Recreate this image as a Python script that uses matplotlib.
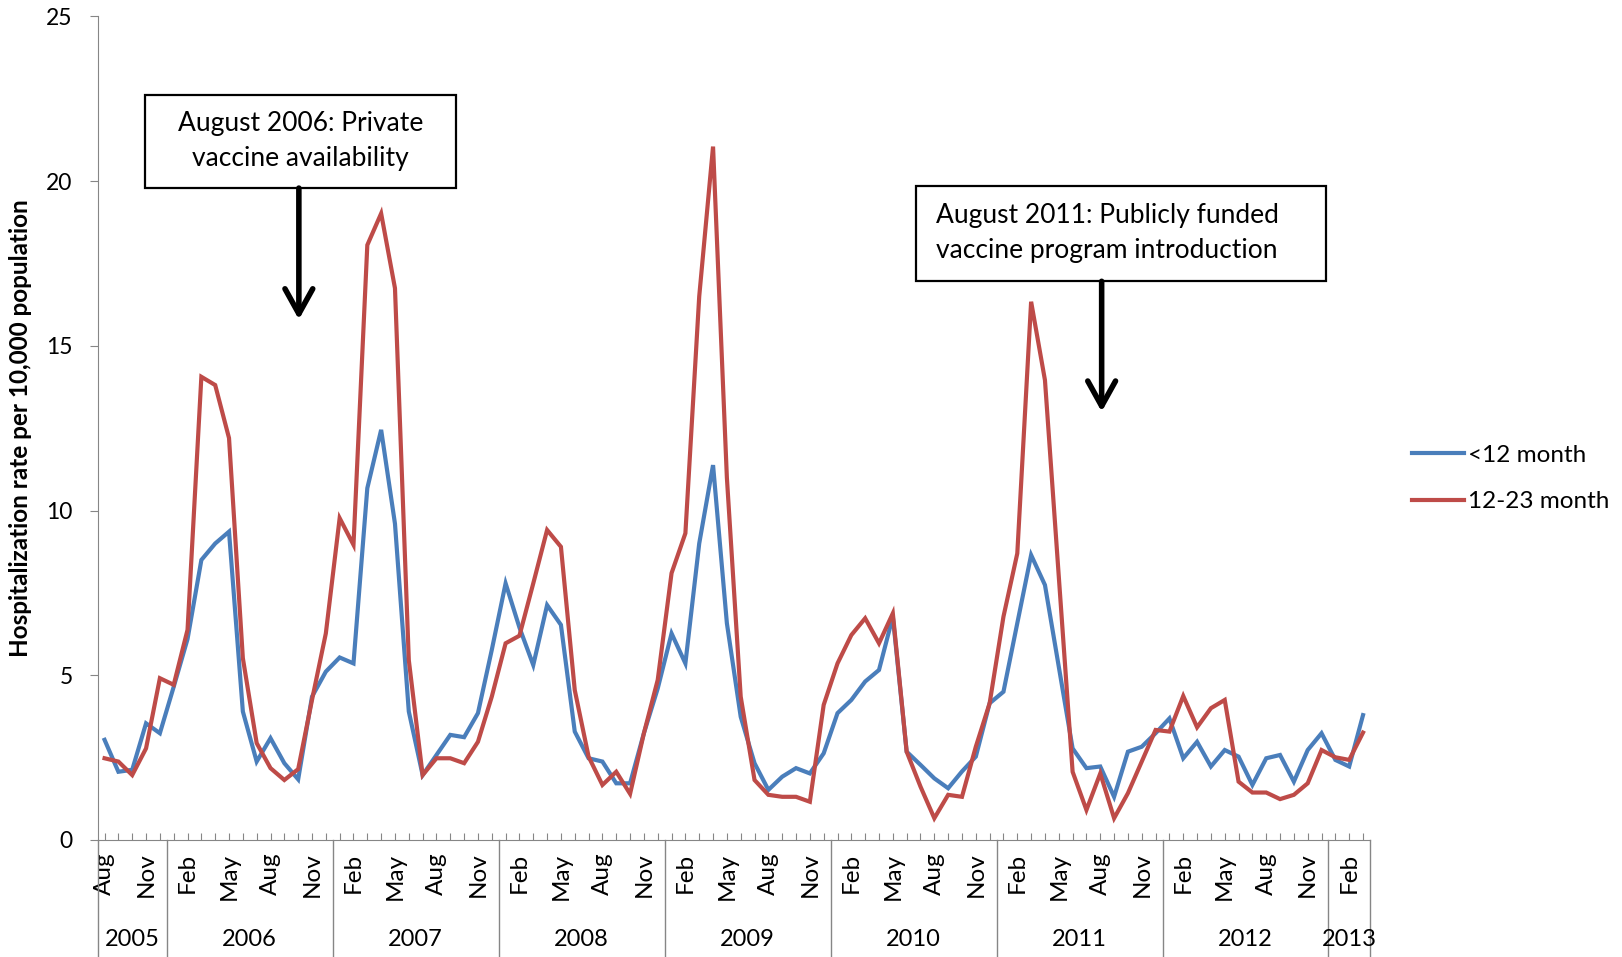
import numpy as np
import matplotlib
matplotlib.use("Agg")
import matplotlib.pyplot as plt
import matplotlib.transforms as mtransforms
from matplotlib.patches import Rectangle

plt.rcParams['font.family'] = ['Lato', 'DejaVu Sans']

# monthly hospitalization rates, Aug 2005 .. Mar 2013
under12 = [3.04, 2.07, 2.13, 3.54, 3.24,
           4.65, 6.10, 8.50, 9.00, 9.36, 3.90, 2.38, 3.09, 2.33, 1.84, 4.35, 5.11,
           5.54, 5.36, 10.68, 12.45, 9.60, 3.90, 1.97, 2.58, 3.19, 3.12, 3.85, 5.77,
           7.79, 6.45, 5.31, 7.13, 6.53, 3.29, 2.48, 2.38, 1.72, 1.72, 3.24, 4.60,
           6.27, 5.36, 9.00, 11.38, 6.58, 3.74, 2.33, 1.52, 1.92, 2.18, 2.02, 2.63,
           3.85, 4.25, 4.81, 5.16, 6.78, 2.68, 2.28, 1.87, 1.57, 2.08, 2.53, 4.15,
           4.50, 6.58, 8.65, 7.74, 5.26, 2.78, 2.18, 2.23, 1.31, 2.68, 2.83, 3.24,
           3.69, 2.48, 2.98, 2.23, 2.73, 2.53, 1.67, 2.48, 2.58, 1.77, 2.73, 3.24,
           2.43, 2.23, 3.79]
m12_23 = [2.48, 2.38, 1.97, 2.78, 4.91,
          4.71, 6.38, 14.06, 13.81, 12.20, 5.52, 2.94, 2.18, 1.82, 2.15, 4.25, 6.27,
          9.77, 8.96, 18.06, 19.02, 16.75, 5.46, 1.97, 2.48, 2.48, 2.33, 2.98, 4.35,
          5.97, 6.20, 7.79, 9.41, 8.90, 4.55, 2.53, 1.67, 2.07, 1.40, 3.24, 4.86,
          8.10, 9.31, 16.50, 21.05, 11.00, 4.35, 1.82, 1.37, 1.31, 1.31, 1.16, 4.10,
          5.36, 6.22, 6.73, 5.97, 6.88, 2.68, 1.62, 0.66, 1.37, 1.31, 2.83, 4.15,
          6.78, 8.70, 16.34, 13.96, 8.00, 2.07, 0.91, 2.02, 0.66, 1.42, 2.38, 3.34,
          3.29, 4.37, 3.42, 4.00, 4.25, 1.77, 1.44, 1.44, 1.24, 1.37, 1.72, 2.73,
          2.51, 2.43, 3.26]

month_names = ['Jan', 'Feb', 'Mar', 'Apr', 'May', 'Jun',
               'Jul', 'Aug', 'Sep', 'Oct', 'Nov', 'Dec']
years = ['2005', '2006', '2007', '2008', '2009', '2010', '2011', '2012', '2013']
months_in_year = [5, 12, 12, 12, 12, 12, 12, 12, 3]
shown_months = ['Feb', 'May', 'Aug', 'Nov']

blue = '#4A7EBB'
red = '#BE4B48'
gray = '#868686'

n = len(under12)
months = [month_names[(7 + k) % 12] for k in range(n)]
x = np.arange(n) + 0.5

fig = plt.figure(figsize=(16.22, 9.57), dpi=100)
ax = fig.add_axes([0.0602, 0.1223, 0.7844, 0.8605])

l1, = ax.plot(x, under12, color=blue, lw=3.0, solid_joinstyle='miter')
l2, = ax.plot(x, m12_23, color=red, lw=3.0, solid_joinstyle='miter')

ax.set_xlim(0, n)
ax.set_ylim(0, 25)
ax.set_yticks(range(0, 26, 5))
ax.tick_params(axis='y', direction='out', length=6, color=gray, pad=12, labelsize=16.5)

ax.set_xticks(x)
ax.set_xticklabels([m if m in shown_months else '' for m in months],
                   rotation=90, fontsize=17.5)
ax.tick_params(axis='x', direction='in', length=5, color=gray, pad=9)

for s in ['top', 'right']:
    ax.spines[s].set_visible(False)
for s in ['left', 'bottom']:
    ax.spines[s].set_color(gray)

# year separators and labels under the month labels
trans = mtransforms.blended_transform_factory(ax.transData, ax.transAxes)
edges = np.concatenate([[0], np.cumsum(months_in_year)])
for e in edges:
    ax.plot([e, e], [0, -0.145], color=gray, lw=1, transform=trans, clip_on=False)
for yr, a, b in zip(years, edges[:-1], edges[1:]):
    ax.text((a + b) / 2, -0.1214, yr, transform=trans, ha='center', va='center', fontsize=17)

ax.set_ylabel('Hospitalization rate per 10,000 population', fontsize=17.5, fontweight='bold')
ax.yaxis.set_label_coords(-0.0516, 0.5)

# annotation boxes with arrows
ax.add_patch(Rectangle((3.41, 19.79), 22.52, 2.83, fill=False, ec='black', lw=1.6, zorder=5))
ax.text(14.67, 21.22, 'August 2006: Private\nvaccine availability', ha='center', va='center',
        fontsize=19, linespacing=1.5, zorder=6)
ax.annotate('', xy=(14.55, 15.8), xytext=(14.55, 19.79),
            arrowprops=dict(arrowstyle='->,head_length=0.9,head_width=0.5',
                            lw=4, color='black', mutation_scale=20, shrinkA=0, shrinkB=0))

ax.add_patch(Rectangle((59.14, 16.96), 29.66, 2.89, fill=False, ec='black', lw=1.6, zorder=5))
ax.text(60.62, 18.42, 'August 2011: Publicly funded\nvaccine program introduction', ha='left',
        va='center', fontsize=19, linespacing=1.5, zorder=6)
ax.annotate('', xy=(72.6, 13.0), xytext=(72.6, 16.96),
            arrowprops=dict(arrowstyle='->,head_length=0.9,head_width=0.5',
                            lw=4, color='black', mutation_scale=20, shrinkA=0, shrinkB=0))

fig.legend([l1, l2], ['<12 month', '12-23 month'], loc='center left',
           bbox_to_anchor=(0.857, 0.5), frameon=False, fontsize=17.5,
           handlelength=2.15, handletextpad=0.15, labelspacing=1.04)

fig.savefig('out.png', dpi=100)
